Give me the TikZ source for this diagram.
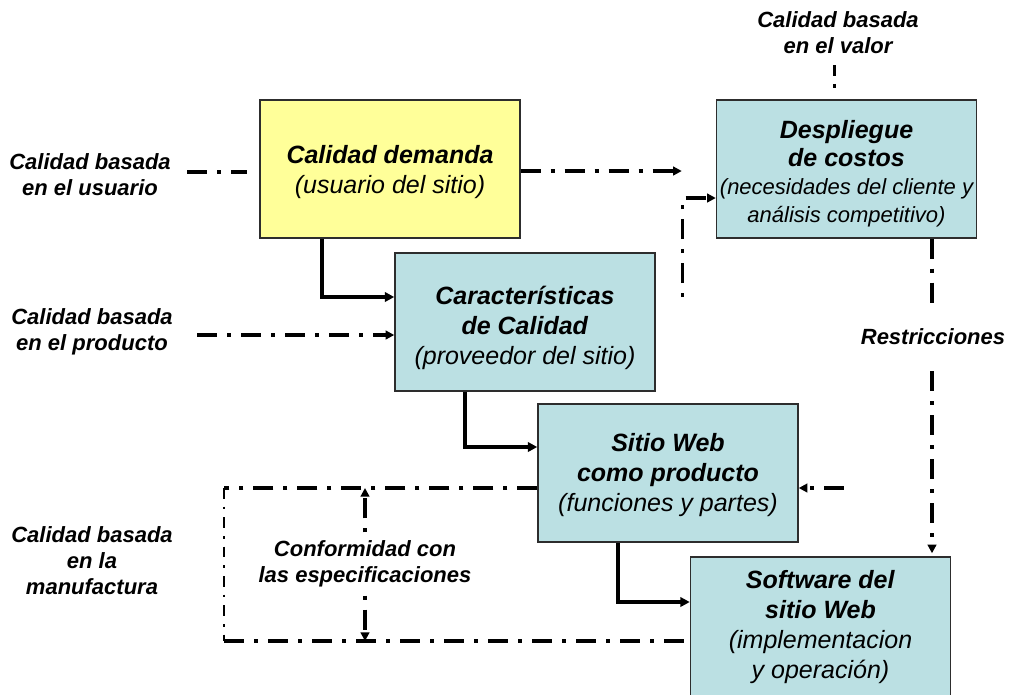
\documentclass[tikz,border=0pt]{standalone}
\usepackage{fontspec}
\setmainfont{Liberation Sans}
\usetikzlibrary{arrows.meta,calc}
\definecolor{boxyellow}{RGB}{255,255,153}
\definecolor{boxblue}{RGB}{187,224,227}
\definecolor{boxline}{RGB}{45,45,45}

\begin{document}
\begin{tikzpicture}[x=0.75pt,y=-0.75pt,
  stage/.style={draw=boxline, line width=1.1pt, minimum width=195pt,
    minimum height=103.5pt, align=center, inner sep=0pt,
    font=\fontsize{18.75}{22.5}\selectfont},
  yellowbox/.style={stage, fill=boxyellow},
  bluebox/.style={stage, fill=boxblue},
  side/.style={align=center, inner sep=0pt,
    font=\fontsize{16.5}{19.5}\selectfont\bfseries\itshape},
  link/.style={line width=2.4pt, -{Triangle[length=7pt,width=7pt]}},
  dashdot/.style={line width=2.5pt, dash pattern=on 15pt off 7.5pt on 3pt off 7.5pt},
  dotdash/.style={line width=2.5pt, dash pattern=on 3pt off 7.5pt on 15pt off 7.5pt},
  thindashdot/.style={line width=1.5pt, dash pattern=on 8pt off 6pt on 2pt off 6pt},
  tip/.style={-{Triangle[length=6.5pt,width=6.5pt]}}
]
\useasboundingbox (0,0) rectangle (1010,694);
\clip (0,0) rectangle (1010,694);

% stages (a zero-width rule on the first line sets the text block a little lower)
\node[yellowbox] (dem) at (390,169)
  {\rule{0pt}{18pt}\textbf{\textit{Calidad demanda}}\\ \textit{(usuario del sitio)}};
\node[bluebox, font=\fontsize{18.75}{21}\selectfont] (cost) at (846.5,169)
  {\rule{0pt}{21pt}\textbf{\textit{Despliegue}}\\ \textbf{\textit{de costos}}\\
   {\fontsize{16.5}{21}\selectfont\itshape (necesidades del cliente y}\\
   {\fontsize{16.5}{21}\selectfont\itshape análisis competitivo)}};
\node[bluebox] (car) at (525,322)
  {\rule{0pt}{23pt}\textbf{\textit{Características}}\\ \textbf{\textit{de Calidad}}\\ \textit{(proveedor del sitio)}};
\node[bluebox] (web) at (668,473)
  {\rule{0pt}{17pt}\textbf{\textit{Sitio Web}}\\ \textbf{\textit{como producto}}\\ \textit{(funciones y partes)}};
\node[bluebox, minimum height=105pt] (sw) at (820.5,627)
  {\textbf{\textit{Software del}}\\ \textbf{\textit{sitio Web}}\\ \textit{(implementacion}\\ \textit{y operación)}};

% side labels
\node[side] (luser) at (90,175) {Calidad basada\\en el usuario};
\node[side] (lprod) at (92,332) {Calidad basada\\en el producto};
\node[side] (lman)  at (92,561) {Calidad basada\\en la\\manufactura};
\node[side] (lval)  at (838,33) {Calidad basada\\en el valor};
\node[side] (lres)  at (933,337) {Restricciones};
\node[side] (lconf) at (365,564) {Conformidad con\\las especificaciones};

% solid flow between stages
\draw[link] ($(dem.south)+(-68,0)$) |- ($(car.west)+(0,-25)$);
\draw[link] ($(car.south)+(-60,0)$) |- ($(web.west)+(0,-26)$);
\draw[link] ($(web.south)+(-50,0)$) |- ($(sw.west)+(0,-25)$);

% quality viewpoints
\draw[dashdot] ($(dem.west)+(-72,3)$) -- ($(dem.west)+(-12,3)$);
\draw[dashdot, tip] ($(dem.east)+(0,2)$) -- ($(cost.west)+(-34,2)$);
\draw[dotdash, tip] ($(car.east)+(27,-25)$) |- ($(cost.west)+(0,29)$);
\draw[dashdot, tip] ($(car.west)+(-197,13)$) -- ($(car.west)+(0,13)$);
\draw[line width=2.5pt, dash pattern=on 8pt off 6pt on 3pt off 6pt]
  ($(cost.north)+(-12,-34)$) -- ($(cost.north)+(-12,-9)$);

% constraints
\draw[dashdot] ($(cost.south)+(85.5,0)$) -- ($(cost.south)+(85.5,73)$);
\draw[dashdot, tip] ($(sw.north)+(111.5,-185)$) -- ($(sw.north)+(111.5,-3)$);
\draw[dashdot, tip] ($(web.east)+(45,15)$) -- ($(web.east)+(0,15)$);

% conformance loop
\coordinate (ctl) at (224,488);
\coordinate (cbl) at (224,641);
\draw[dashdot] ($(web.west)+(0,15)$) -- (ctl);
\draw[thindashdot] (ctl) -- (cbl);
\draw[dashdot] (cbl) -- ($(sw.west)+(0,14)$);
\draw[dotdash, tip] ($(lconf.north)+(0,-8)$) -- (lconf.north |- ctl);
\draw[dotdash, tip] ($(lconf.south)+(0,8)$) -- (lconf.south |- cbl);
\end{tikzpicture}
\end{document}
